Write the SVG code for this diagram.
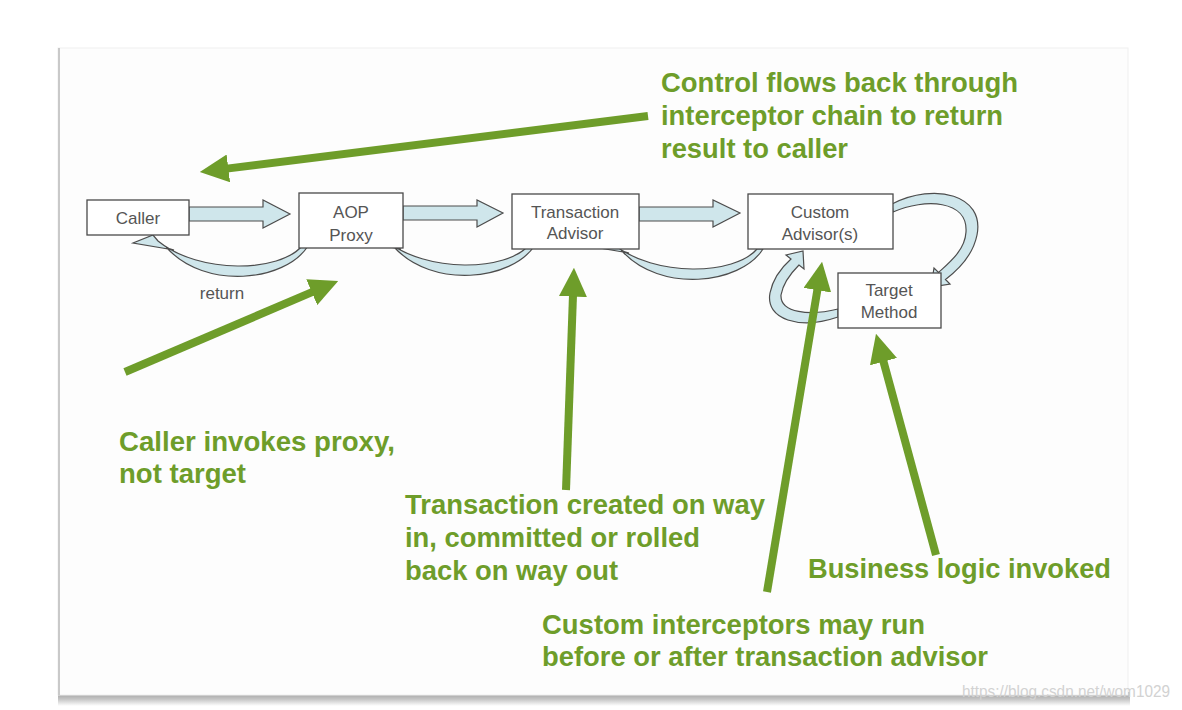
<svg xmlns="http://www.w3.org/2000/svg" width="1182" height="710" viewBox="0 0 1182 710">
  <defs>
    <linearGradient id="shadow" x1="0" y1="0" x2="0" y2="1">
      <stop offset="0" stop-color="#9a9a9a"/>
      <stop offset="0.5" stop-color="#c4c4c4"/>
      <stop offset="1" stop-color="#ffffff"/>
    </linearGradient>
    <marker id="gh" markerWidth="3.6" markerHeight="3.5" refX="0.2" refY="1.75" orient="auto" markerUnits="strokeWidth">
      <path d="M0,0 L3.6,1.75 L0,3.5 z" fill="#6e9d2a"/>
    </marker>
    <path id="ret" d="M308,246 C285,282 205,290 167,248 L174,250 L133,243 L153,235 L158,241 C200,275 280,272 302,246 Z"/>
    <style>
      .box { fill: #ffffff; stroke: #4a4a4a; stroke-width: 1.3; }
      .lbl { font-family: "Liberation Sans", Arial, sans-serif; font-size: 17px; fill: #555555; text-anchor: middle; }
      .blue { fill: #cfe6eb; stroke: #4d4d4d; stroke-width: 1.2; stroke-linejoin: miter; }
      .green { stroke: #6e9d2a; stroke-width: 8; fill: none; marker-end: url(#gh); }
      .note { font-family: "Liberation Sans", Arial, sans-serif; font-size: 27px; font-weight: bold; fill: #6e9d2a; }
      .wm { font-family: "Liberation Sans", Arial, sans-serif; font-size: 16px; fill: #d2d2d2; }
    </style>
  </defs>

  <rect width="1182" height="710" fill="#ffffff"/>

  <!-- slide frame -->
  <g id="slide">
    <rect x="58" y="692" width="1072" height="14" fill="url(#shadow)"/>
    <rect x="58" y="48" width="1070" height="647" fill="#fdfdfd" stroke="#efefef" stroke-width="1"/>
    <line x1="59" y1="48" x2="59" y2="695" stroke="#c9c9c9" stroke-width="2"/>
  </g>

  <!-- connectors -->
  <g id="connectors">
    <!-- forward block arrows -->
    <path class="blue" d="M189,207 L263,207 L263,200 L290,214 L263,228 L263,221 L189,221 Z"/>
    <path class="blue" d="M403,206 L477,206 L477,200 L503,213 L477,227 L477,220 L403,220 Z"/>
    <path class="blue" d="M639,207 L713,207 L713,200 L740,213 L713,227 L713,221 L639,221 Z"/>
    <!-- return curved arrows -->
    <use href="#ret" class="blue"/>
    <use href="#ret" class="blue" transform="translate(227,-1)"/>
    <use href="#ret" class="blue" transform="translate(455,3)"/>
    <!-- custom -> target loop -->
    <path class="blue" d="M892,204 C935,182 985,195 977,235 C973,255 958,270 945.5,279.5 L950,284 L931,287 L934,268 L938.5,272.5 C950,262 965,250 966,232 C968,200 925,198 893,212 Z"/>
    <!-- target -> custom loop -->
    <path class="blue" d="M838,317 C800,330 765,320 770,293 C773,278 782,267 791,259 L786,255 L803,251 L804,269 L799,265 C791,273 783,283 781,295 C780,313 810,316 838,309 Z"/>
    <!-- green callout arrows -->
    <line class="green" x1="648" y1="116" x2="226.8" y2="168.6"/>
    <line class="green" x1="125" y1="372" x2="313.2" y2="291.6"/>
    <line class="green" x1="566" y1="490" x2="573" y2="295"/>
    <line class="green" x1="767" y1="592" x2="817.6" y2="288.6"/>
    <line class="green" x1="936" y1="555" x2="883.1" y2="360.1"/>
  </g>

  <!-- nodes -->
  <g id="caller">
    <rect class="box" x="87" y="200" width="102" height="35"/>
    <text class="lbl" x="138" y="224">Caller</text>
  </g>
  <g id="aop-proxy">
    <rect class="box" x="299" y="193" width="104" height="55"/>
    <text class="lbl" x="351" y="218">AOP</text>
    <text class="lbl" x="351" y="241">Proxy</text>
  </g>
  <g id="transaction-advisor">
    <rect class="box" x="512" y="194" width="127" height="55"/>
    <text class="lbl" x="575" y="218">Transaction</text>
    <text class="lbl" x="575" y="239">Advisor</text>
  </g>
  <g id="custom-advisors">
    <rect class="box" x="748" y="194" width="145" height="55"/>
    <text class="lbl" x="820" y="218">Custom</text>
    <text class="lbl" x="820" y="240">Advisor(s)</text>
  </g>
  <g id="target-method">
    <rect class="box" x="838" y="273" width="103" height="55"/>
    <text class="lbl" x="889" y="296">Target</text>
    <text class="lbl" x="889" y="318">Method</text>
  </g>
  <g id="return-label">
    <text class="lbl" x="222" y="299">return</text>
  </g>

  <!-- callout notes -->
  <g id="note-control">
    <text class="note" x="661" y="92" textLength="357" lengthAdjust="spacingAndGlyphs">Control flows back through</text>
    <text class="note" x="661" y="125" textLength="342" lengthAdjust="spacingAndGlyphs">interceptor chain to return</text>
    <text class="note" x="661" y="158" textLength="187" lengthAdjust="spacingAndGlyphs">result to caller</text>
  </g>
  <g id="note-caller">
    <text class="note" x="119" y="451" textLength="276" lengthAdjust="spacingAndGlyphs">Caller invokes proxy,</text>
    <text class="note" x="119" y="483" textLength="127" lengthAdjust="spacingAndGlyphs">not target</text>
  </g>
  <g id="note-transaction">
    <text class="note" x="405" y="514" textLength="360" lengthAdjust="spacingAndGlyphs">Transaction created on way</text>
    <text class="note" x="405" y="547" textLength="295" lengthAdjust="spacingAndGlyphs">in, committed or rolled</text>
    <text class="note" x="405" y="580" textLength="213" lengthAdjust="spacingAndGlyphs">back on way out</text>
  </g>
  <g id="note-business">
    <text class="note" x="808" y="578" textLength="303" lengthAdjust="spacingAndGlyphs">Business logic invoked</text>
  </g>
  <g id="note-custom">
    <text class="note" x="542" y="634" textLength="383" lengthAdjust="spacingAndGlyphs">Custom interceptors may run</text>
    <text class="note" x="542" y="666" textLength="446" lengthAdjust="spacingAndGlyphs">before or after transaction advisor</text>
  </g>

  <text class="wm" x="962" y="697" textLength="208" lengthAdjust="spacingAndGlyphs">https://blog.csdn.net/wom1029</text>
</svg>
